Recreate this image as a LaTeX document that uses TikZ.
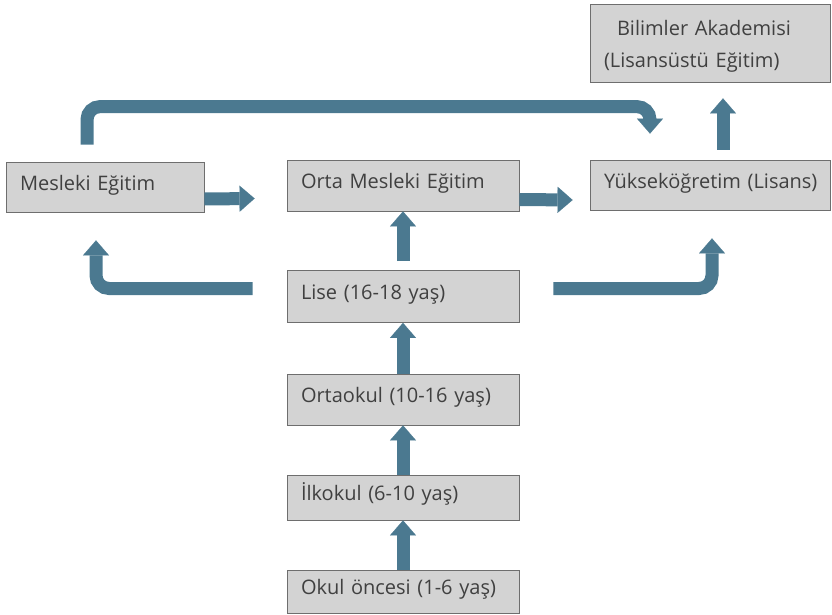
\documentclass[tikz,border=0pt]{standalone}
\usepackage{fontspec}
\setmainfont{Open Sans}
\usepackage{xcolor}
\usetikzlibrary{arrows.meta}
\usetikzlibrary{positioning}
\definecolor{boxgray}{HTML}{D3D3D3}
\definecolor{boxline}{HTML}{6E6E6E}
\definecolor{arrowblue}{HTML}{4B7990}
\definecolor{textgray}{HTML}{404040}

\begin{document}
\begin{tikzpicture}[x=1pt,y=-1pt,
		box/.style={draw=boxline, fill=boxgray, line width=0.8pt, text=textgray,
			font=\fontsize{20}{32}\selectfont, align=left, inner xsep=14pt, inner ysep=0pt},
		linebox/.style={box, text height=11pt, text depth=5pt},
		flow/.style={arrowblue, line width=13pt, -{Triangle[width=26pt,length=15pt,line width=0.1pt]}},
		bentflow/.style={flow, rounded corners=13pt}]
				\useasboundingbox (0,0) rectangle (832,615);
				
				% draw boxes
				\node[linebox, minimum width=198pt, text width=170pt, minimum height=50pt] (mesleki) at (105,187) {Mesleki Eğitim};
				\node[linebox, minimum width=232pt, text width=204pt, minimum height=51pt] (orta) at (403,185.5) {Orta Mesleki Eğitim};
				\node[linebox, minimum width=240pt, text width=228pt, inner xsep=6pt, minimum height=50pt] (yuksek) at (710,185) {\hspace*{8pt}Yükseköğretim (Lisans)};
				\node[box, minimum width=240pt, text width=212pt, minimum height=78pt] (bilimler) at (710,43) {\rule{0pt}{22pt}\hspace*{13pt}Bilimler Akademisi\\(Lisansüstü Eğitim)};
				\node[linebox, minimum width=232pt, text width=204pt, minimum height=52pt] (lise) at (403,296.5) {Lise (16-18 yaş)};
				\node[linebox, minimum width=232pt, text width=204pt, minimum height=51pt] (ortaokul) at (403,399.5) {Ortaokul (10-16 yaş)};
				\node[linebox, minimum width=232pt, text width=204pt, minimum height=45pt] (ilkokul) at (403,497.5) {İlkokul (6-10 yaş)};
				\node[linebox, minimum width=232pt, text width=204pt, minimum height=43pt] (okul) at (403,591.5) {Okul öncesi (1-6 yaş)};
				
				% draw straight arrows
				\draw[flow] (okul.north) -- (ilkokul.south);
				\draw[flow] (ilkokul.north) -- (ortaokul.south);
				\draw[flow] (ortaokul.north) -- (lise.south);
				\draw[flow] ([yshift=9pt]lise.north) -- (orta.south);
				\draw[flow] ([yshift=-12pt]mesleki.east) -- ([xshift=-32pt,yshift=-13pt]orta.west);
				\draw[flow] ([yshift=-14pt]orta.east) -- ([xshift=-17pt,yshift=-15pt]yuksek.west);
				\draw[flow] ([xshift=13pt,yshift=10pt]yuksek.north) -- ([xshift=13pt,yshift=-16pt]bilimler.south);
				
				% draw bent arrows
				\draw[bentflow] ([xshift=-18pt,yshift=17pt]mesleki.north) -- ++(0,-38) -| ([xshift=-60pt,yshift=26pt]yuksek.north);
				\draw[bentflow] ([xshift=-34pt,yshift=8pt]lise.west) -| ([xshift=-9pt,yshift=-28pt]mesleki.south);
				\draw[bentflow] ([xshift=34pt,yshift=8pt]lise.east) -| ([xshift=2pt,yshift=-28pt]yuksek.south);
			\end{tikzpicture}
\end{document}
